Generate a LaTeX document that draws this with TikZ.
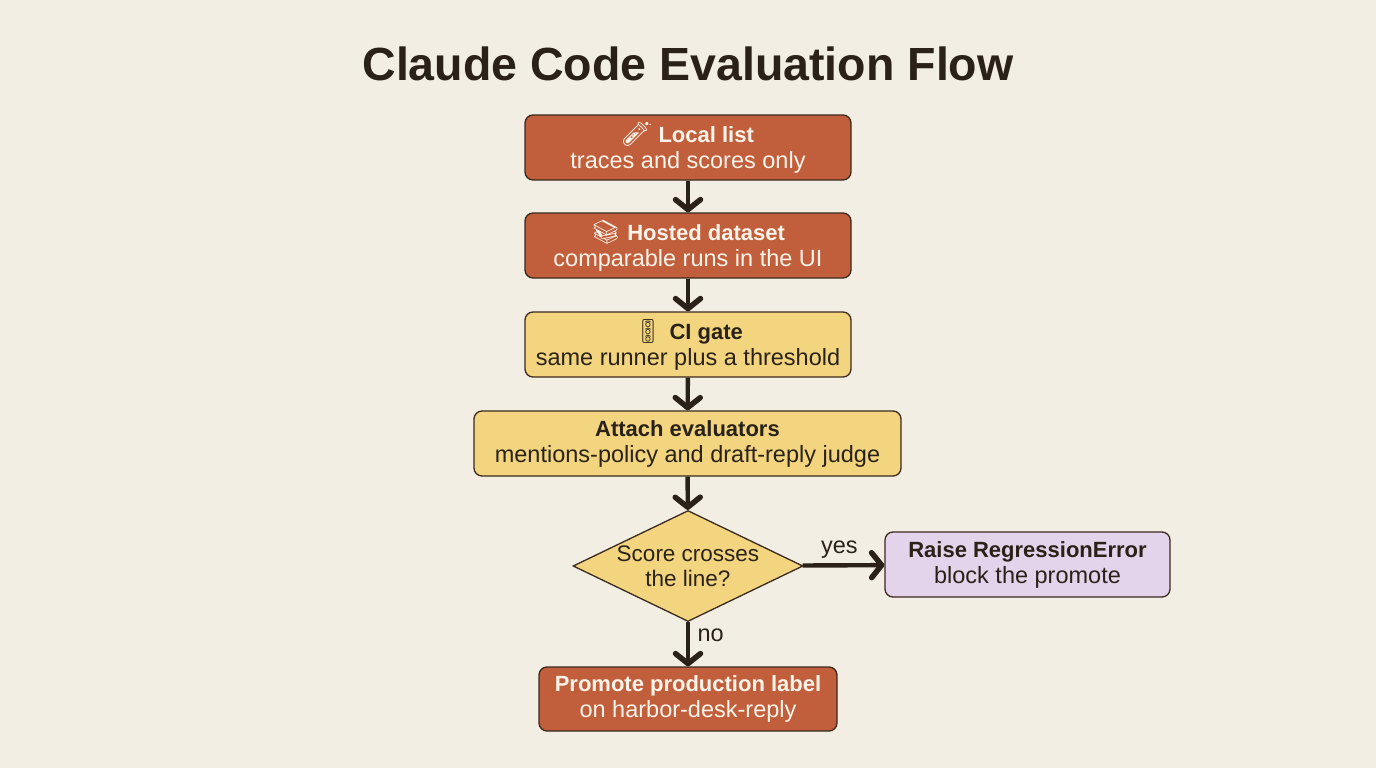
\documentclass[tikz,border=0pt]{standalone}
\usepackage{fontspec}
\setmainfont{Liberation Sans}
\newfontfamily\emojifont{Noto Emoji}
\usetikzlibrary{arrows.meta,shapes.geometric,positioning}
\definecolor{bgc}{HTML}{F2EEE3}
\definecolor{orangec}{HTML}{C15F3C}
\definecolor{yellowc}{HTML}{F3D57F}
\definecolor{lavc}{HTML}{E3D4EB}
\definecolor{edgec}{HTML}{3A2A1E}
\definecolor{inkc}{HTML}{2A2218}
\definecolor{lighttext}{HTML}{FFF4EA}
\newcommand{\hd}[1]{{\fontsize{22}{26}\selectfont\bfseries #1}}
\tikzset{
  base/.style={draw=edgec, line width=1.3pt, rounded corners=8pt, align=center, inner sep=0pt, font=\fontsize{23.5}{26}\selectfont},
  obox/.style={base, fill=orangec, text=lighttext},
  ybox/.style={base, fill=yellowc, text=inkc},
  lbox/.style={base, fill=lavc, text=inkc},
  dec/.style={diamond, draw=edgec, line width=1.3pt, fill=yellowc, text=inkc, align=center, inner sep=-12pt, aspect=2.07, font=\fontsize{22.5}{25}\selectfont, minimum width=230pt, minimum height=111pt},
  flow/.style={draw=inkc, line width=4.4pt, -{Straight Barb[length=10pt,width=25pt,line width=5.5pt,round]}},
  elab/.style={text=inkc, font=\fontsize{23.5}{26}\selectfont}
}
\begin{document}
\begin{tikzpicture}[x=1pt,y=-1pt]
\fill[bgc] (0,0) rectangle (1376,768);
\useasboundingbox (0,0) rectangle (1376,768);
\node[text=inkc, font=\fontsize{46.5}{56}\selectfont\bfseries] (title) at (688,64) {Claude Code Evaluation Flow};
\node[obox, minimum width=326pt, minimum height=65pt] (b1) at (688,147.5) {{\emojifont 🧪} \hd{Local list}\\traces and scores only};
\node[obox, minimum width=326pt, minimum height=65pt] (b2) at (688,245.5) {{\emojifont 📚} \hd{Hosted dataset}\\comparable runs in the UI};
\node[ybox, minimum width=326pt, minimum height=65pt] (b3) at (688,344.5) {{\emojifont 🚦} \hd{CI gate}\\same runner plus a threshold};
\node[ybox, minimum width=427pt, minimum height=65pt] (b4) at (687.5,443.5) {\hd{Attach evaluators}\\mentions-policy and draft-reply judge};
\node[dec] (d) at (688,566) {Score crosses\\the line?};
\node[lbox, minimum width=285pt, minimum height=65pt] (r) at (1027.5,564.5) {\hd{Raise RegressionError}\\block the promote};
\node[obox, minimum width=298pt, minimum height=64pt] (p) at (688,699) {\hd{Promote production label}\\on harbor-desk-reply};
\draw[flow] (b1) -- (b2);
\draw[flow] (b2) -- (b3);
\draw[flow] (b3) -- (b4);
\draw[flow] (b4) -- (d);
\draw[flow] (d) -- node[elab, above, pos=0.45, yshift=1pt] {yes} (r);
\draw[flow] (d) -- node[elab, right, pos=0.3, xshift=4pt] {no} (p);
\end{tikzpicture}
\end{document}
